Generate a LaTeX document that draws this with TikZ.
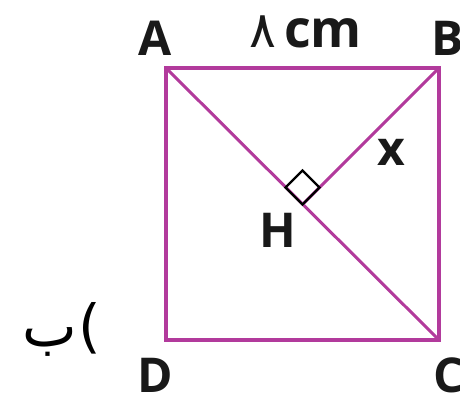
\documentclass[tikz,border=0pt]{standalone}
\usepackage{fontspec}
\setmainfont{Open Sans}
\newfontfamily\arabicfont[Script=Arabic]{DejaVu Sans}
\TeXXeTstate=1
\definecolor{mag}{RGB}{178,58,156}
\begin{document}
\begin{tikzpicture}[x=1pt,y=-1pt,
  edge/.style={draw=mag,line width=3.5pt,line cap=round,line join=miter},
  diag/.style={draw=mag,line width=3pt},
  lbl/.style={font=\fontsize{48}{48}\selectfont\bfseries,inner sep=0pt,text=black!90},
  small/.style={font=\fontsize{52}{52}\selectfont\bfseries,inner sep=0pt,text=black!90}]
\useasboundingbox (0,0) rectangle (460,402);
\coordinate (A) at (166,68);
\coordinate (B) at (439,68);
\coordinate (C) at (439,340);
\coordinate (D) at (166,340);
\coordinate (H) at (302.5,204.5);
\draw[diag] (A) -- (C);
\draw[diag] (H) -- (B);
\draw[edge] (A) -- (B) -- (C) -- (D) -- cycle;
\draw[black,line width=2.2pt] (H) -- ++(-17,-17) -- ++(17,-17) -- ++(17,17) -- cycle;
\node[lbl] (lA) at (155,38) {A};
\node[lbl] (lB) at (448,38) {B};
\node[lbl] (lC) at (449,375) {C};
\node[lbl] (lD) at (155,375) {D};
\node[lbl] (lH) at (278,230) {H};
\node[lbl] (lx) at (391,152) {x};
\node[small,anchor=base west] (len) at (249,47) {{\fontsize{50}{50}\selectfont\mdseries\arabicfont ۸}\hspace{8pt}cm};
\node[anchor=base west,inner sep=0pt,font=\fontsize{58}{58}\selectfont\arabicfont] (part) at (22,346) {ب\hspace{2pt})};
\end{tikzpicture}
\end{document}
